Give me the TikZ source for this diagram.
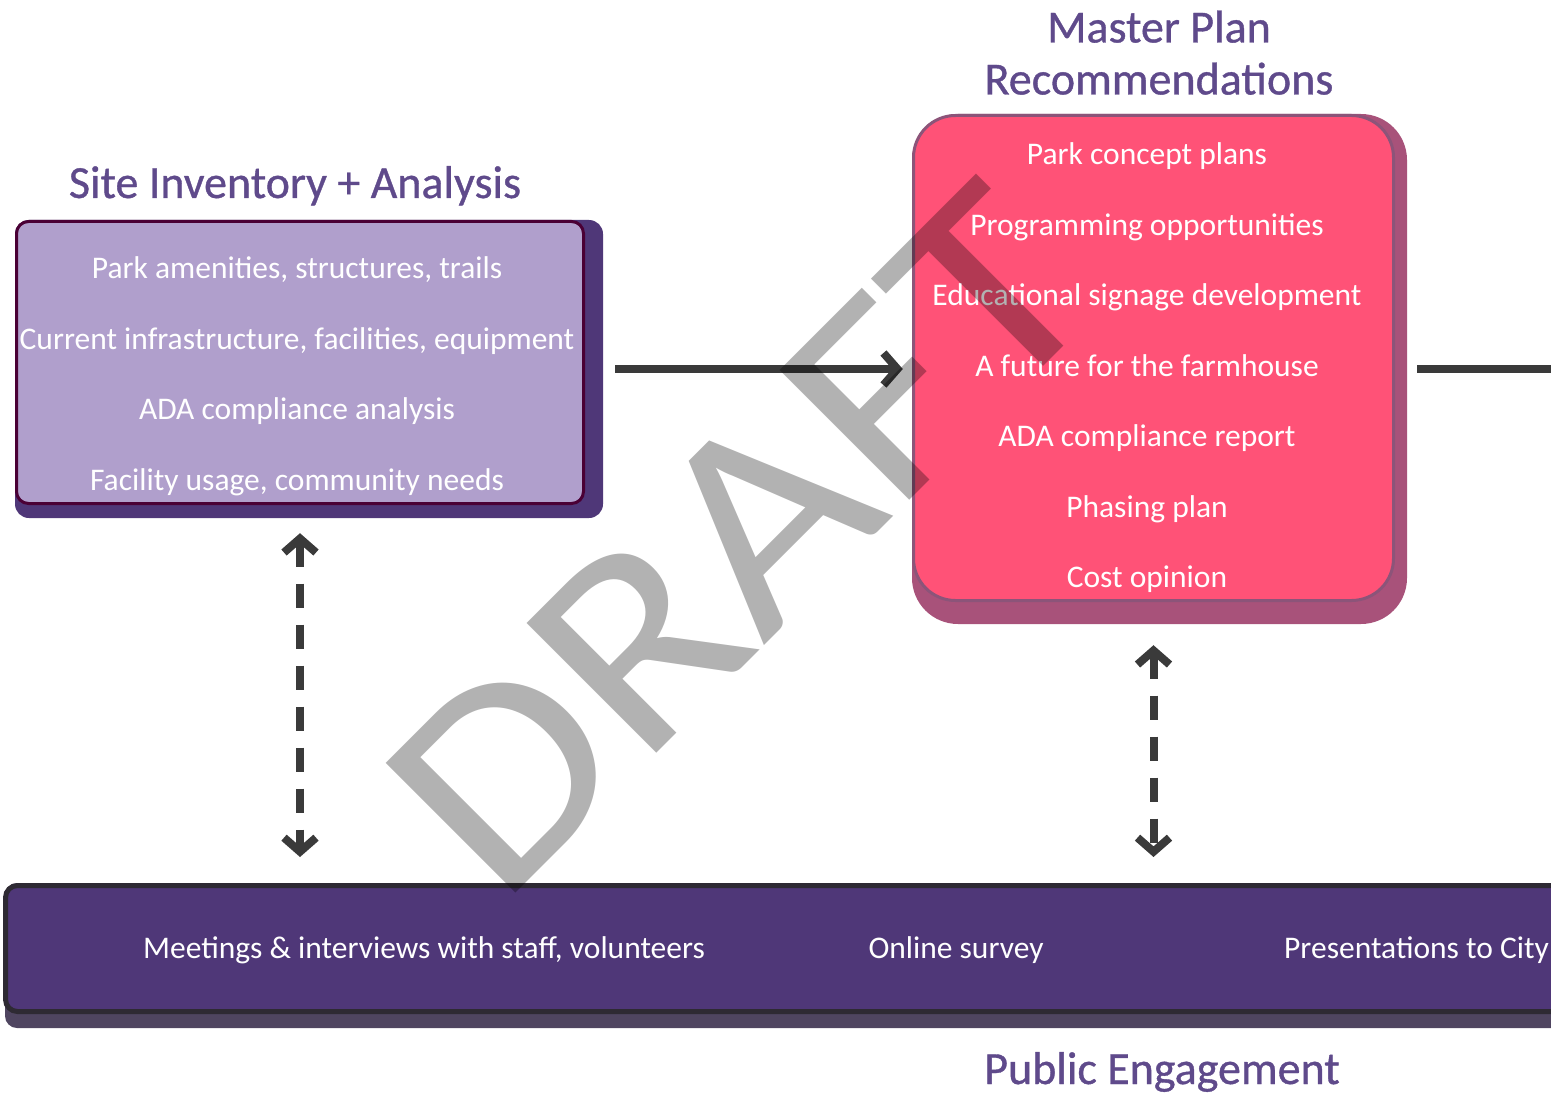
\documentclass[tikz,border=0pt]{standalone}
\usepackage{fontspec}
\setmainfont{Carlito}
\newfontfamily\draftfont[FakeStretch=1.12]{Carlito}
\newfontfamily\headfont[FakeBold=0.8]{Carlito}
\usepackage{tikz}
\usetikzlibrary{arrows.meta,positioning,calc}
\definecolor{headpurple}{HTML}{5F4A8B}
\definecolor{sitefill}{HTML}{B09FCC}
\definecolor{siteedge}{HTML}{4A0035}
\definecolor{siteback}{HTML}{4F3778}
\definecolor{planfill}{HTML}{FF5277}
\definecolor{planedge}{HTML}{8C5479}
\definecolor{planback}{HTML}{A8527A}
\definecolor{bandfill}{HTML}{4F3778}
\definecolor{bandedge}{HTML}{2E2A33}
\definecolor{bandback}{HTML}{4F4560}
\definecolor{linkgray}{HTML}{3A3A3A}
\tikzset
{
    heading/.style  = {text=headpurple, font=\headfont\fontsize{46}{52}\selectfont, align=center, inner sep=0pt},
    itemlist/.style = {text=white, font=\fontsize{31.5}{70.5}\selectfont, align=center, inner sep=0pt},
    backdrop/.style = {rectangle, inner sep=0pt},
    sitebox/.style  = {rectangle, draw=siteedge, fill=sitefill, line width=3pt, rounded corners=12pt, minimum width=567pt, minimum height=282pt},
    planbox/.style  = {rectangle, draw=planedge, fill=planfill, line width=3pt, rounded corners=42pt, minimum width=480pt, minimum height=485pt},
    bandbox/.style  = {rectangle, draw=bandedge, fill=bandfill, line width=5pt, rounded corners=12pt, minimum width=1592pt, minimum height=126pt},
    link/.style     = {draw=linkgray, line width=8pt},
    dashlink/.style = {dash pattern=on 24pt off 17pt}
}

\begin{document}
\begin{tikzpicture}[x=1pt, y=-1pt, >={Straight Barb[length=14pt, width=32pt]}]
    \useasboundingbox (0,0) rectangle (1551,1094);
    \clip (0,0) rectangle (1551,1094);

    \node [backdrop, fill=siteback, rounded corners=14pt, minimum width=588pt, minimum height=298pt] (siteback) at (309,369) {};
    \node [sitebox] (sitebox) at (300,362.5) {};
    \node [itemlist] (siteitems) at (297,376.5) {Park amenities, structures, trails \\ Current infrastructure, facilities, equipment \\ ADA compliance analysis \\ Facility usage, community needs};
    \node [heading, anchor=base] (sitetitle) at (295,198) {Site Inventory + Analysis};

    \node [backdrop, fill=planback, rounded corners=46pt, minimum width=495pt, minimum height=510pt] (planback) at (1159.5,369) {};
    \node [planbox] (planbox) at (1153.5,358) {};
    \node [itemlist] (planitems) at (1147,368) {Park concept plans \\ Programming opportunities \\ Educational signage development \\ A future for the farmhouse \\ ADA compliance report \\ Phasing plan \\ Cost opinion};
    \node [heading, anchor=south] (plantitle) at (1159,95) {Master Plan \\ Recommendations};

    \node [backdrop, fill=bandback, rounded corners=12pt, minimum width=1595pt, minimum height=145pt] (bandback) at (802.5,955.5) {};
    \node [bandbox] (engageband) at (801.5,948.5) {};
    \node [itemlist, anchor=base] (meetings) at (424,958) {Meetings \& interviews with staff, volunteers};
    \node [itemlist, anchor=base] (survey) at (956,958) {Online survey};
    \node [itemlist, anchor=base west] (presentations) at (1284,958) {Presentations to City};
    \node [heading, anchor=base] (engagetitle) at (1162,1084) {Public Engagement};

    \coordinate (offpage) at (1560,369);
    \draw [link, ->, shorten <=12pt, shorten >=9pt] (siteback.east) -- (planback.west);
    \draw [link, shorten <=10pt] (planback.east) -- (offpage);
    \draw [link, dashlink, <->, shorten <=15pt, shorten >=26pt] (sitebox.center |- siteback.south) -- (sitebox.center |- engageband.north);
    \draw [link, dashlink, <->, shorten <=21pt, shorten >=26pt] (planbox.center |- planback.south) -- (planbox.center |- engageband.north);

    \node [text=black, text opacity=0.3, font=\draftfont\fontsize{286}{286}\selectfont, inner sep=0pt, rotate=45] (draftmark) at (740,540) {DRAFT};
\end{tikzpicture}
\end{document}
